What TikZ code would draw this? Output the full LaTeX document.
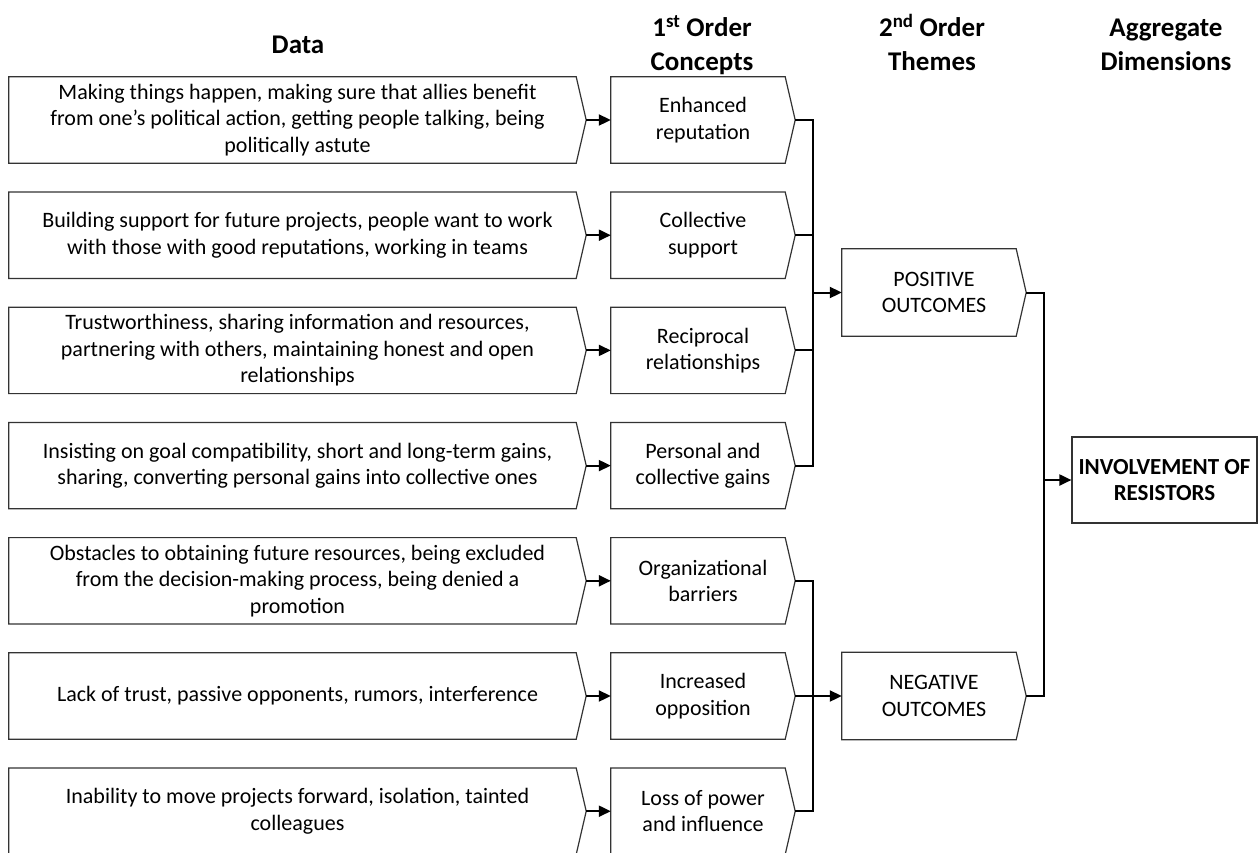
\documentclass[tikz,border=0pt]{standalone}
\usepackage{fontspec}
\setmainfont{Carlito}
\usetikzlibrary{arrows.meta}

\tikzset{
  boxline/.style={draw=black!80, line width=1.2pt},
  textbox/.style={inner sep=0pt, minimum height=86pt, align=center,
                  font=\fontsize{22}{26.5}\selectfont},
  datanode/.style={textbox, minimum width=577pt},
  firstnode/.style={textbox, minimum width=184pt},
  themenode/.style={textbox, minimum width=184pt, minimum height=87pt},
  aggnode/.style={boxline, inner sep=0pt, minimum width=185pt, minimum height=86pt,
                  align=center, font=\fontsize{23}{26.5}\selectfont\bfseries},
  header/.style={align=center, inner sep=0pt, anchor=base,
                 font=\fontsize{27}{33.3}\selectfont\bfseries},
  link/.style={line width=2pt, black},
  flow/.style={link, -{Triangle[length=12pt, width=11pt]}},
}

% Outline of a chevron-ended box around a node whose east anchor is the tip
\newcommand{\chevronbox}[1]{%
  \draw[boxline] (#1.north west) -- ([xshift=-10pt]#1.north east) -- (#1.east)
    -- ([xshift=-10pt]#1.south east) -- (#1.south west) -- cycle;}

\begin{document}
\begin{tikzpicture}[x=1pt, y=-1pt]
\useasboundingbox (0,0) rectangle (1260,852);
\fill[white] (0,0) rectangle (1260,852);

% Column headings (placed by the baseline of their last line)
\node[header] (hdata) at (298,53.3) {Data};
\node[header] (hfirst) at (702,70) {1\textsuperscript{st} Order\\Concepts};
\node[header] (hsecond) at (932,70) {2\textsuperscript{nd} Order\\Themes};
\node[header] (hagg) at (1166,70) {Aggregate\\Dimensions};

% Data column
\node[datanode] (d1) at (297.5,120.0) {Making things happen, making sure that allies benefit\\from one’s political action, getting people talking, being\\politically astute};
\node[datanode] (d2) at (297.5,235.2) {Building support for future projects, people want to work\\with those with good reputations, working in teams};
\node[datanode] (d3) at (297.5,350.4) {Trustworthiness, sharing information and resources,\\partnering with others, maintaining honest and open\\relationships};
\node[datanode] (d4) at (297.5,465.6) {Insisting on goal compatibility, short and long-term gains,\\sharing, converting personal gains into collective ones};
\node[datanode] (d5) at (297.5,580.8) {Obstacles to obtaining future resources, being excluded\\from the decision-making process, being denied a\\promotion};
\node[datanode] (d6) at (297.5,696.0) {Lack of trust, passive opponents, rumors, interference};
\node[datanode] (d7) at (297.5,811.2) {Inability to move projects forward, isolation, tainted\\colleagues};

% First-order concepts
\node[firstnode] (c1) at (703,120.0) {Enhanced\\reputation};
\node[firstnode] (c2) at (703,235.2) {Collective\\support};
\node[firstnode] (c3) at (703,350.4) {Reciprocal\\relationships};
\node[firstnode] (c4) at (703,465.6) {Personal and\\collective gains};
\node[firstnode] (c5) at (703,580.8) {Organizational\\barriers};
\node[firstnode] (c6) at (703,696.0) {Increased\\opposition};
\node[firstnode] (c7) at (703,811.2) {Loss of power\\and influence};

% Second-order themes
\node[themenode] (pos) at (934,292.5) {POSITIVE\\OUTCOMES};
\node[themenode] (neg) at (934,696.0) {NEGATIVE\\OUTCOMES};

% Aggregate dimension
\node[aggnode] (inv) at (1164.5,480) {INVOLVEMENT OF\\RESISTORS};

\foreach \n in {d1,d2,d3,d4,d5,d6,d7,c1,c2,c3,c4,c5,c6,c7,pos,neg} {\chevronbox{\n}}

% Data to concepts
\foreach \i in {1,...,7} {\draw[flow] (d\i.east) -- (c\i.west);}

% Concepts to positive outcomes
\coordinate (pbus) at (813,292.5);
\draw[link] (c1.east) -- (c1.east -| pbus) -- (c4.east -| pbus) -- (c4.east);
\draw[link] (c2.east) -- (c2.east -| pbus);
\draw[link] (c3.east) -- (c3.east -| pbus);
\draw[flow] (pbus) -- (pos.west);

% Concepts to negative outcomes
\coordinate (nbus) at (813,696.0);
\draw[link] (c5.east) -- (c5.east -| nbus) -- (c7.east -| nbus) -- (c7.east);
\draw[flow] (c6.east) -- (neg.west);

% Themes to aggregate dimension
\coordinate (abus) at (1044,480);
\draw[link] (pos.east) -- (pos.east -| abus) -- (neg.east -| abus) -- (neg.east);
\draw[flow] (abus) -- (inv.west);
\end{tikzpicture}
\end{document}
